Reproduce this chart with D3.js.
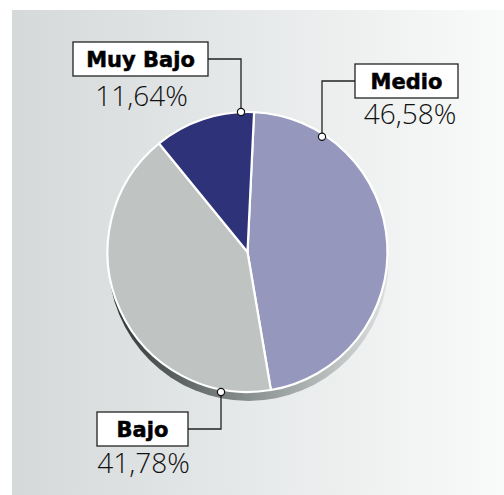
<!DOCTYPE html>
<html>
<head>
<meta charset="utf-8">
<script src="https://cdn.jsdelivr.net/npm/d3@7"></script>
<style>
body { margin: 0; background: #fff; }
.box-label { font-family: "DejaVu Sans", "Open Sans", sans-serif; font-weight: 700; font-size: 21px; fill: #000; stroke: #000; stroke-width: 0.5px; }
.pct-label { font-family: "Open Sans", "DejaVu Sans", sans-serif; font-weight: 300; font-size: 28px; fill: #111; }
</style>
</head>
<body>
<div id="main"></div>
<script>
var ctx = {
    w: 504,
    h: 495,
    cx: 247.5,
    cy: 252,
    r: 140,
    depth: 9,
};

// data
var categories = ["Medio", "Bajo", "Muy Bajo"];
var values = [46.58, 41.78, 11.64];
var pctLabels = ["46,58%", "41,78%", "11,64%"];
var colors = ["#9597bd", "#bfc3c2", "#2e3278"];

// label layout: box position, leader elbow, percentage text position
var labelLayout = {
    "Medio":    {bx: 355, by: 64, bw: 103, bh: 34, side: "left",  elbowX: 322, at: 0.19, px: 410, py: 124},
    "Bajo":     {bx: 97,  by: 412, bw: 91, bh: 34, side: "right", elbowX: 221, at: 0.06, px: 143.5, py: 473},
    "Muy Bajo": {bx: 73,  by: 42, bw: 135, bh: 34, side: "right", elbowX: 241, at: 0.91, px: 141.5, py: 106},
};

var createViz = function(){
    var svgEl = d3.select("#main").append("svg")
        .attr("width", ctx.w)
        .attr("height", ctx.h);
    ctx.svg = svgEl;

    var defs = svgEl.append("defs");
    var bg = defs.append("linearGradient").attr("id", "bgGrad")
        .attr("x1", "0%").attr("x2", "100%").attr("y1", "0%").attr("y2", "0%");
    bg.append("stop").attr("offset", "0%").attr("stop-color", "#d5d9da");
    bg.append("stop").attr("offset", "100%").attr("stop-color", "#f9fafa");

    var dg = defs.append("linearGradient").attr("id", "depthGrad")
        .attr("gradientUnits", "userSpaceOnUse")
        .attr("x1", ctx.cx - ctx.r).attr("x2", ctx.cx + ctx.r)
        .attr("y1", 0).attr("y2", 0);
    dg.append("stop").attr("offset", "0%").attr("stop-color", "#2f3232");
    dg.append("stop").attr("offset", "45%").attr("stop-color", "#7f8786");
    dg.append("stop").attr("offset", "100%").attr("stop-color", "#dcdfdf");

    svgEl.append("rect")
        .attr("x", 12)
        .attr("y", 10)
        .attr("width", ctx.w - 12)
        .attr("height", ctx.h - 10)
        .attr("fill", "url(#bgGrad)");

    drawPie(svgEl);
    drawLabels(svgEl);
};

var drawPie = function(svgEl){
    // 3d edge under the disc
    svgEl.append("circle")
        .attr("cx", ctx.cx + 1)
        .attr("cy", ctx.cy + ctx.depth)
        .attr("r", ctx.r)
        .attr("fill", "url(#depthGrad)");

    var pieG = svgEl.append("g").attr("id", "pie")
        .attr("transform", "translate(" + ctx.cx + "," + ctx.cy + ")");

    var startAngle = 2.7 * Math.PI / 180;
    var pie = d3.pie().sort(null)
        .startAngle(startAngle)
        .endAngle(startAngle + 2 * Math.PI);
    var arc = d3.arc().innerRadius(0).outerRadius(ctx.r);
    ctx.arcs = pie(values);

    pieG.selectAll("path.slice")
        .data(ctx.arcs)
        .enter()
        .append("path")
        .attr("class", "slice")
        .attr("d", arc)
        .attr("fill", (d, i) => colors[i])
        .attr("stroke", "#fff")
        .attr("stroke-width", 2.2)
        .attr("stroke-linejoin", "round");
};

var drawLabels = function(svgEl){
    var labG = svgEl.append("g").attr("id", "labels");
    categories.forEach(function(cat, i){
        var L = labelLayout[cat];
        var a = ctx.arcs[i];
        // anchor point on the rim
        var ang = a.startAngle + (a.endAngle - a.startAngle) * L.at;
        var ay = ctx.cy - ctx.r * Math.cos(ang);
        var midY = L.by + L.bh / 2;
        var sx = L.side == "left" ? L.bx : L.bx + L.bw;

        labG.append("path")
            .attr("d", "M" + sx + "," + midY + "H" + L.elbowX + "V" + ay)
            .attr("fill", "none")
            .attr("stroke", "#222")
            .attr("stroke-width", 1.3);
        labG.append("circle")
            .attr("cx", L.elbowX)
            .attr("cy", ay)
            .attr("r", 3.6)
            .attr("fill", "#fff")
            .attr("stroke", "#111")
            .attr("stroke-width", 1.2);

        labG.append("rect")
            .attr("x", L.bx)
            .attr("y", L.by)
            .attr("width", L.bw)
            .attr("height", L.bh)
            .attr("fill", "#fff")
            .attr("stroke", "#222")
            .attr("stroke-width", 1.3);
        labG.append("text")
            .attr("class", "box-label")
            .attr("x", L.bx + L.bw / 2)
            .attr("y", L.by + L.bh / 2 + 7.5)
            .attr("text-anchor", "middle")
            .text(cat);
        labG.append("text")
            .attr("class", "pct-label")
            .attr("x", L.px)
            .attr("y", L.py)
            .attr("text-anchor", "middle")
            .text(pctLabels[i]);
    });
};

createViz();
</script>
</body>
</html>
